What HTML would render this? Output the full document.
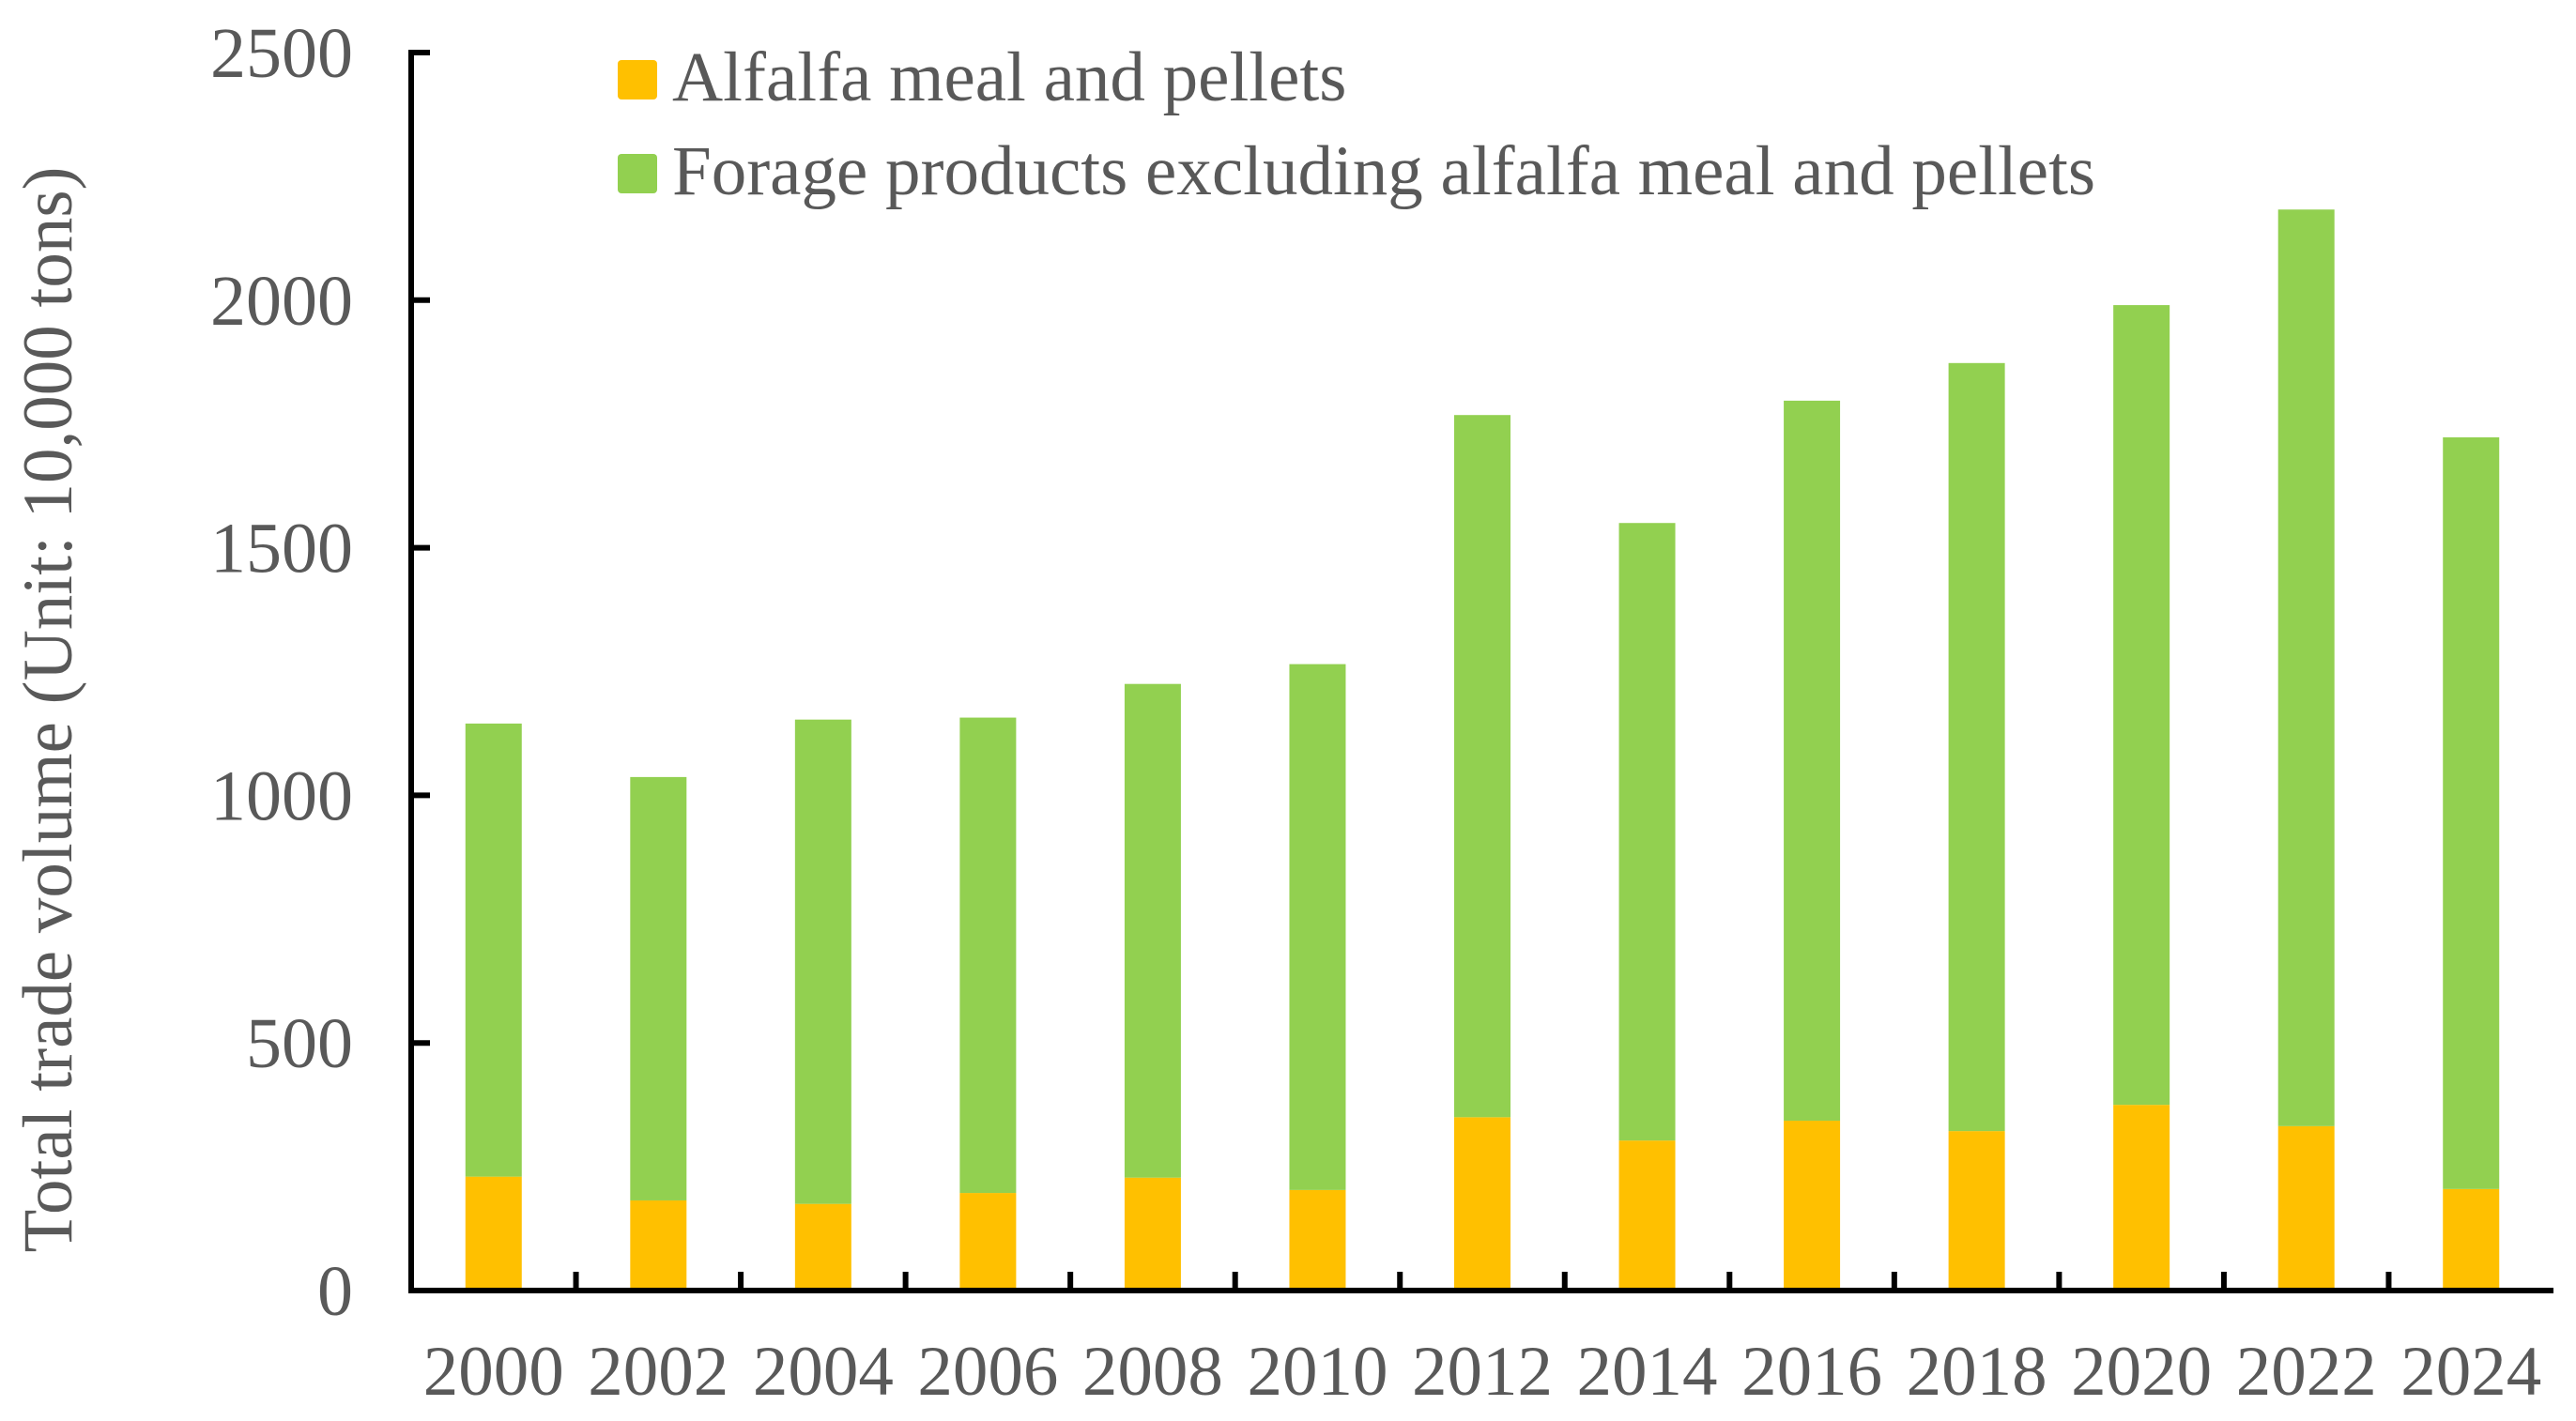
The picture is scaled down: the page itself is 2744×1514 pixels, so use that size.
<!DOCTYPE html>
<html><head><meta charset="utf-8"><style>
html,body{margin:0;padding:0;background:#fff;}
svg{display:block;}
text{font-family:"Liberation Serif",serif;fill:#595959;}
</style></head><body>
<svg id="chart" width="2744" height="1514" viewBox="0 0 2744 1514" xmlns="http://www.w3.org/2000/svg">
<g id="bars"></g>
<g id="axes"></g>
<text transform="translate(76,756) rotate(-90)" text-anchor="middle" font-size="75">Total trade volume (Unit: 10,000 tons)</text>
<g>
<rect x="658" y="64" width="42" height="42" rx="4" fill="#FFC000"/>
<text x="716" y="107" font-size="75">Alfalfa meal and pellets</text>
<rect x="658" y="164" width="42" height="42" rx="4" fill="#92D050"/>
<text x="716" y="207" font-size="75">Forage products excluding alfalfa meal and pellets</text>
</g>
</svg>
<script>
const years = ["2000","2002","2004","2006","2008","2010","2012","2014","2016","2018","2020","2022","2024"];
const alfalfa = [230,182,175,197,228,203,350,303,343,322,375,332,205];
const forageOther = [915,855,978,960,997,1062,1418,1247,1454,1551,1615,1851,1518];
const yTicks = [0,500,1000,1500,2000,2500];

const NS="http://www.w3.org/2000/svg";
const x0=438, x1=2720, y0=1375, yTop=56, yMax=2500;
const band=(x1-x0)/years.length, barW=60;
const yS=v=>y0-(v/yMax)*(y0-yTop);
const xC=i=>x0+band*(i+0.5);
function mk(tag,attrs,parent){const e=document.createElementNS(NS,tag);for(const k in attrs)e.setAttribute(k,attrs[k]);parent.appendChild(e);return e;}
const bars=document.getElementById('bars'), axes=document.getElementById('axes');
years.forEach((yr,i)=>{
  const a=alfalfa[i], f=forageOther[i];
  const r1=mk('rect',{x:xC(i)-barW/2,y:yS(a),width:barW,height:yS(0)-yS(a),fill:'#FFC000'},bars);
  
  
  const r2=mk('rect',{x:xC(i)-barW/2,y:yS(a+f),width:barW,height:yS(a)-yS(a+f),fill:'#92D050'},bars);
  
  
  const t=mk('text',{x:xC(i),y:1486,'text-anchor':'middle','font-size':75},axes);
  t.textContent=yr;
  
  
  if(i>0){
    const tk=mk('line',{x1:x0+band*i,x2:x0+band*i,y1:y0,y2:y0-20,stroke:'#000','stroke-width':6},axes);
    
    
  }
});
yTicks.forEach(v=>{
  const tk=mk('line',{x1:x0,x2:x0+20,y1:yS(v),y2:yS(v),stroke:'#000','stroke-width':6},axes);
  
  
  const t=mk('text',{x:376,y:yS(v)+26,'text-anchor':'end','font-size':76},axes);
  t.textContent=v;
  
  
});
const ya=mk('line',{x1:x0,x2:x0,y1:yTop-3,y2:y0+3,stroke:'#000','stroke-width':6},axes);


const xa=mk('line',{x1:x0-3,x2:x1,y1:y0,y2:y0,stroke:'#000','stroke-width':6},axes);


</script>
</body></html>
